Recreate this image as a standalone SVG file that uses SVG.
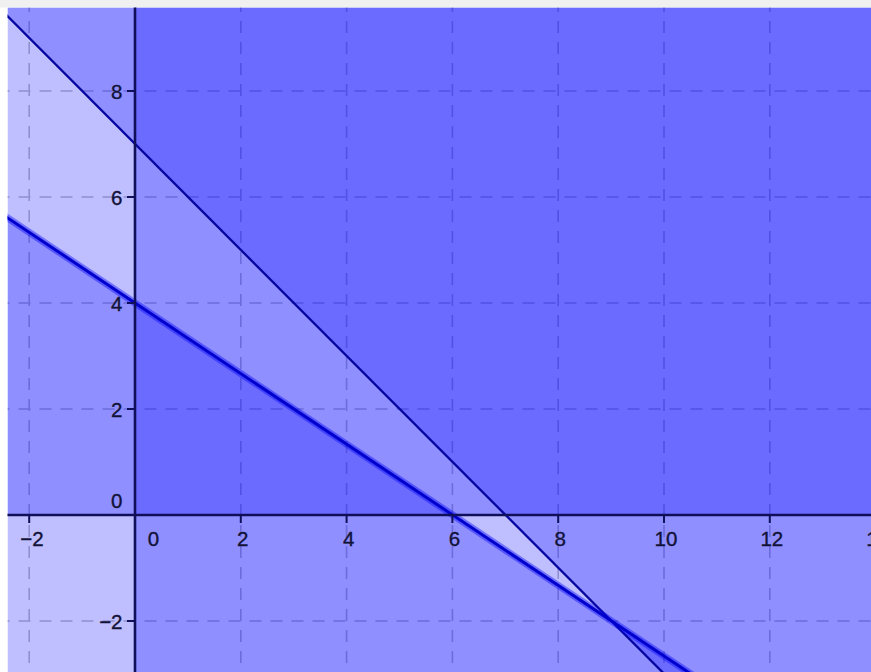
<svg xmlns="http://www.w3.org/2000/svg" width="871" height="672" viewBox="0 0 871 672">
<defs>
<clipPath id="plot"><rect x="7.5" y="7.5" width="863.5" height="664.5"/></clipPath>
<style>
.grid{stroke:#c0c0c0;stroke-width:1.6;stroke-dasharray:12 9;fill:none}
.shade{fill:#0000ff;fill-opacity:0.25}
.axis{stroke:#10105a;stroke-width:2.6;fill:none}
.tick{stroke:#10105a;stroke-width:2;fill:none}
.lbl{font-family:"Liberation Sans",Arial,sans-serif;font-size:20.5px;fill:#121238;stroke:#121238;stroke-width:0.35}
.xl{text-anchor:middle}
.yl{text-anchor:end}
</style>
</defs>
<rect width="871" height="672" fill="#ffffff"/>
<rect x="0" y="0" width="871" height="7.5" fill="#f0f0f0"/>
<g clip-path="url(#plot)">
<rect x="7.5" y="7.5" width="863.5" height="664.5" fill="#ffffff"/>
<g id="grid">
<path class="grid" d="M29.2,0V672M240.8,0V672M346.6,0V672M452.4,0V672M558.2,0V672M664,0V672M769.8,0V672"/>
<path class="grid" d="M-2.5,91H871M-2.5,197H871M-2.5,303H871M-2.5,409H871M-2.5,621H871"/>
</g>
<g id="regions">
<rect id="x-ge-0" class="shade" x="135" y="7.5" width="736" height="664.5"/>
<rect id="y-ge-0" class="shade" x="7.5" y="7.5" width="863.5" height="507.5"/>
<polygon id="above-line1" class="shade" points="7.5,7.5 7.5,16.26 662,672 871,672 871,7.5"/>
<polygon id="below-line2" class="shade" points="7.5,217.8 687.5,672 7.5,672"/>
</g>
<g id="lines">
<line id="line1" x1="-2" y1="6.7" x2="672" y2="681.7" stroke="#0505a0" stroke-width="2.3"/>
<line x1="-2" y1="211.5" x2="700" y2="680" stroke="#0000ff" stroke-opacity="0.4" stroke-width="7"/>
<line id="line2" x1="-2" y1="211.5" x2="700" y2="680" stroke="#0000cc" stroke-width="3"/>
</g>
</g>
<g id="axes">
<path class="axis" d="M7.5,515H871M135,7.5V672"/>
<path class="tick" d="M29.2,515V523M240.8,515V523M346.6,515V523M452.4,515V523M558.2,515V523M664,515V523M769.8,515V523"/>
<path class="tick" d="M127,91H135M127,197H135M127,303H135M127,409H135M127,621H135"/>
</g>
<g id="labels" class="lbl">
<text class="xl" x="32" y="546">−2</text>
<text class="xl" x="153.5" y="546">0</text>
<text class="xl" x="242.8" y="546">2</text>
<text class="xl" x="348.6" y="546">4</text>
<text class="xl" x="454.4" y="546">6</text>
<text class="xl" x="560.2" y="546">8</text>
<text class="xl" x="666" y="546">10</text>
<text class="xl" x="771.8" y="546">12</text>
<text class="xl" x="877.6" y="546">14</text>
<text class="yl" x="122.5" y="99">8</text>
<text class="yl" x="122.5" y="205">6</text>
<text class="yl" x="122.5" y="311">4</text>
<text class="yl" x="122.5" y="417">2</text>
<text class="yl" x="122.5" y="508">0</text>
<text class="yl" x="122.5" y="629">−2</text>
</g>
</svg>
